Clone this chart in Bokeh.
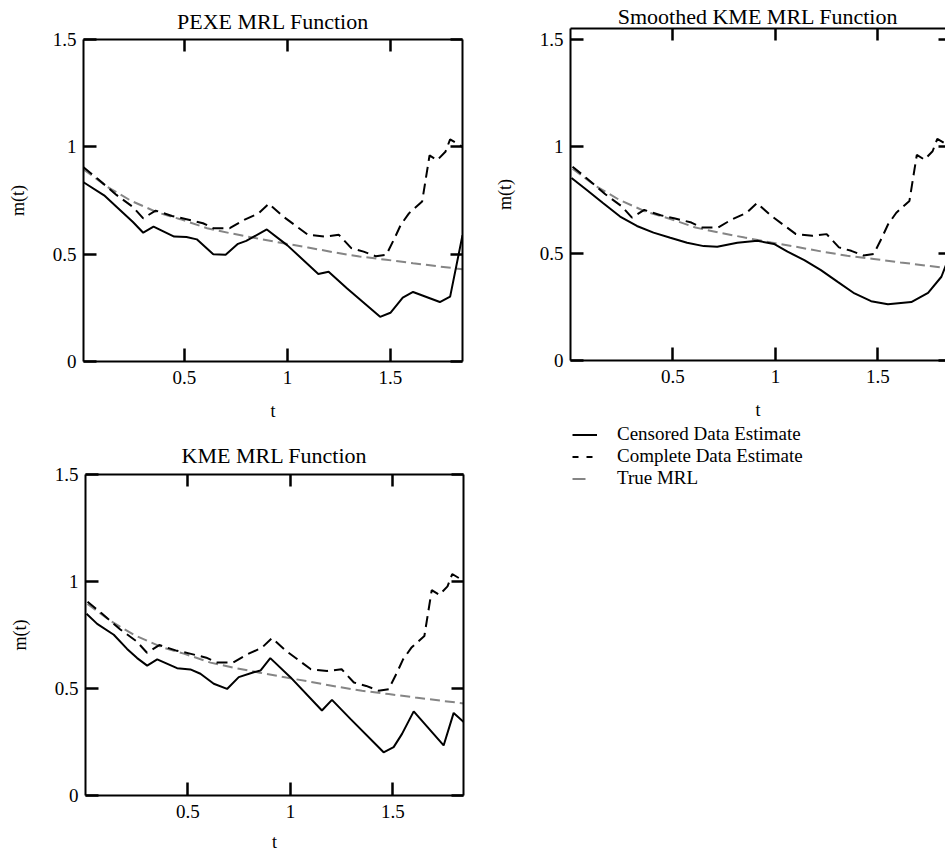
from bokeh.plotting import figure
from bokeh.models import (LinearAxis, FixedTicker, NumeralTickFormatter, Range1d,
                          Title, Legend, LegendItem)
from bokeh.layouts import column, row
from bokeh.embed import file_html
from bokeh.resources import INLINE

FONT = "Liberation Serif"
NAN = float("nan")

# ---------------- data ----------------
t_true = [0.01, 0.125, 0.24, 0.37, 0.48, 0.61, 0.72, 0.85, 0.98, 1.10, 1.23, 1.35,
          1.48, 1.61, 1.735, 1.85]
m_true = [0.895, 0.814, 0.749, 0.694, 0.663, 0.621, 0.598, 0.574, 0.551, 0.531,
          0.508, 0.489, 0.474, 0.458, 0.443, 0.43]

t_complete = [0.01, 0.08, 0.17, 0.25, 0.30, 0.36, 0.44, 0.51, 0.59, 0.64, 0.72, 0.79,
              0.86, 0.91, 0.98, 1.10, 1.18, 1.25, 1.31, 1.37, 1.43, 1.48, 1.52, 1.55,
              1.59, 1.654, 1.69, 1.727, 1.767, 1.79, 1.85]
m_complete = [0.905, 0.85, 0.776, 0.72, 0.667, 0.703, 0.678, 0.663, 0.644, 0.621,
              0.621, 0.66, 0.69, 0.735, 0.675, 0.59, 0.582, 0.59, 0.528, 0.512, 0.49,
              0.497, 0.574, 0.636, 0.69, 0.745, 0.96, 0.938, 0.977, 1.035, 1.0]

t_pexe = [0.01, 0.11, 0.17, 0.25, 0.30, 0.35, 0.45, 0.51, 0.56, 0.64, 0.70, 0.76,
          0.80, 0.90, 1.00, 1.15, 1.20, 1.29, 1.45, 1.50, 1.56, 1.61, 1.74, 1.79, 1.85]
m_pexe = [0.835, 0.774, 0.721, 0.65, 0.6, 0.628, 0.582, 0.58, 0.569, 0.5, 0.497,
          0.548, 0.562, 0.615, 0.541, 0.408, 0.418, 0.34, 0.208, 0.227, 0.298, 0.324,
          0.277, 0.302, 0.588]

t_smooth = [0.005, 0.078, 0.160, 0.242, 0.324, 0.405, 0.487, 0.569, 0.650, 0.716,
            0.814, 0.912, 0.993, 1.059, 1.141, 1.222, 1.304, 1.386, 1.467, 1.549,
            1.663, 1.745, 1.810, 1.835, 1.85]
m_smooth = [0.852, 0.797, 0.734, 0.672, 0.628, 0.597, 0.573, 0.55, 0.534, 0.531,
            0.55, 0.559, 0.544, 0.508, 0.469, 0.422, 0.367, 0.313, 0.277, 0.263,
            0.273, 0.316, 0.391, 0.453, 0.50]

t_kme = [0.005, 0.057, 0.138, 0.203, 0.252, 0.301, 0.350, 0.447, 0.512, 0.561, 0.626,
         0.691, 0.748, 0.821, 0.854, 0.902, 1.0, 1.154, 1.203, 1.293, 1.455, 1.504,
         1.545, 1.602, 1.748, 1.797, 1.846]
m_kme = [0.849, 0.802, 0.751, 0.685, 0.642, 0.607, 0.636, 0.595, 0.589, 0.569, 0.522,
         0.498, 0.553, 0.576, 0.584, 0.642, 0.553, 0.397, 0.447, 0.358, 0.202, 0.226,
         0.288, 0.393, 0.234, 0.386, 0.343]

x_ticks = [0.5, 1, 1.5]
y_ticks = [0, 0.5, 1, 1.5]
titles = ["PEXE MRL Function", "Smoothed KME MRL Function", "KME MRL Function"]
legend_labels = ["Censored Data Estimate", "Complete Data Estimate", "True MRL"]
x_label = "t"
y_label = "m(t)"

TRUE_COLOR = "#858585"
TRUE_DASH = "10 5"
COMPLETE_DASH = "11 6"


def make_axis(ticks, labelled, tick_in=13):
    ax = LinearAxis(ticker=FixedTicker(ticks=ticks, minor_ticks=[]),
                    formatter=NumeralTickFormatter(format="0.[0]"))
    ax.major_tick_in = tick_in
    ax.major_tick_out = 0
    ax.minor_tick_in = 0
    ax.minor_tick_out = 0
    ax.major_tick_line_width = 2.5
    ax.major_tick_line_color = "black"
    ax.axis_line_width = 2
    ax.axis_line_color = "black"
    if labelled:
        ax.major_label_text_font = FONT
        ax.major_label_text_font_size = "19px"
        ax.major_label_text_color = "black"
        ax.axis_label_text_font = FONT
        ax.axis_label_text_font_size = "18px"
        ax.axis_label_text_font_style = "normal"
        ax.axis_label_text_color = "black"
    else:
        ax.major_label_text_font_size = "0px"
        ax.major_label_standoff = 0
        ax.axis_label_standoff = 0
    return ax


def make_panel(title, t_c, m_c, xr, yr, w, h, bl, br, bt, bb, t_standoff,
               xlab_standoff, right_line=True):
    p = figure(width=w, height=h,
               x_range=Range1d(*xr), y_range=Range1d(*yr),
               x_axis_type=None, y_axis_type=None,
               toolbar_location=None, output_backend="svg",
               min_border_left=bl, min_border_right=br,
               min_border_top=bt, min_border_bottom=bb,
               outline_line_color=None, background_fill_color="white",
               border_fill_color="white")
    p.title = Title(text=title, text_font=FONT, text_font_size="22px",
                    text_font_style="normal", align="center", text_color="black",
                    standoff=t_standoff)
    below = make_axis(x_ticks, True)
    below.axis_label = x_label
    below.major_label_standoff = 9
    below.axis_label_standoff = xlab_standoff
    left = make_axis(y_ticks, True)
    left.axis_label = y_label
    left.major_label_standoff = 7
    left.axis_label_standoff = 22
    above = make_axis(x_ticks, False, 12)
    right = make_axis(y_ticks, False, 12)
    if not right_line:
        right.axis_line_color = None
        right.major_tick_in = 7
    p.add_layout(below, "below")
    p.add_layout(left, "left")
    p.add_layout(above, "above")
    p.add_layout(right, "right")

    p.line(t_true, m_true, line_color=TRUE_COLOR, line_width=2, line_dash=TRUE_DASH)
    p.line(t_complete, m_complete, line_color="black", line_width=2,
           line_dash=COMPLETE_DASH)
    p.line(t_c, m_c, line_color="black", line_width=2)
    return p


p1 = make_panel(titles[0], t_pexe, m_pexe, (0.01, 1.85), (0, 1.5),
                470, 423, 83, 8, 39, 61, 11, 14)
p2 = make_panel(titles[1], t_smooth, m_smooth, (0.0, 1.83), (0, 1.55),
                475, 423, 100, 0, 28, 63, 0, 14, right_line=False)
p3 = make_panel(titles[2], t_kme, m_kme, (0.0, 1.845), (0, 1.5),
                470, 431, 85, 7, 51, 57, 13, 11)

leg = figure(width=475, height=431, x_range=Range1d(0, 1), y_range=Range1d(0, 1),
             x_axis_type=None, y_axis_type=None, toolbar_location=None,
             output_backend="svg", min_border_left=102, min_border_top=0,
             min_border_right=0, min_border_bottom=0, outline_line_color=None)
r_c = leg.line(x=[NAN], y=[NAN], line_color="black", line_width=2)
r_d = leg.line(x=[NAN], y=[NAN], line_color="black", line_width=2, line_dash="6 8")
r_t = leg.line(x=[NAN], y=[NAN], line_color=TRUE_COLOR, line_width=2,
               line_dash="13 20")
legend = Legend(items=[LegendItem(label=legend_labels[0], renderers=[r_c]),
                       LegendItem(label=legend_labels[1], renderers=[r_d]),
                       LegendItem(label=legend_labels[2], renderers=[r_t])],
                location="top_left", margin=0, padding=0, spacing=0,
                glyph_width=25, glyph_height=21, label_height=21, label_standoff=20,
                label_text_font=FONT, label_text_font_size="19px",
                label_text_color="black",
                border_line_color=None, background_fill_alpha=0)
leg.add_layout(legend)

# each figure in its own column so that the frames of neighbours are not aligned
layout = column(row(column(p1), column(p2)), row(column(p3), column(leg)))

open("out.html", "w").write(file_html(layout, INLINE))
